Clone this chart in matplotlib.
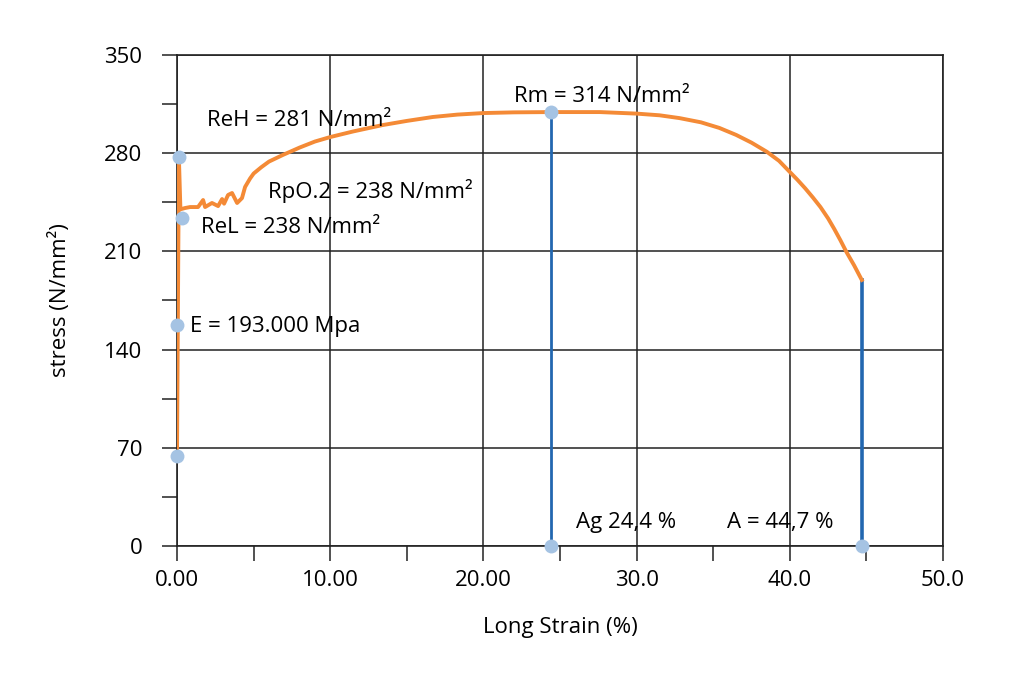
import matplotlib.pyplot as plt
from matplotlib.ticker import MultipleLocator, FixedLocator

plt.rcParams['font.family'] = ['Open Sans', 'DejaVu Sans']

# stress-strain curve
strain = [0.0, 0.12, 0.22, 0.52, 0.85, 1.37, 1.70, 1.83, 2.28, 2.68, 2.94, 3.07,
          3.33, 3.59, 3.92, 4.24, 4.44, 4.77, 5.0, 5.5, 6.0, 6.9, 8.0, 9.0, 10.0,
          11.5, 13.4, 15.0, 16.7, 18.3, 20.0, 22.0, 24.4, 27.6, 30.0, 31.5, 32.8,
          34.2, 35.4, 36.5, 37.5, 38.5, 39.3, 40.0, 40.5, 41.0, 41.5, 42.0, 42.5,
          42.9, 43.3, 43.7, 44.2, 44.7]
stress = [70, 277, 240, 240.9, 241.6, 241.6, 246.6, 241.6, 244.5, 242.3, 247.3, 244.0,
          250.2, 251.6, 244.5, 248.0, 255.9, 262.0, 265.5, 270.0, 274.0, 278.7, 284.0, 288.3, 291.5,
          295.5, 300.0, 303.0, 305.8, 307.5, 308.6, 309.1, 309.3, 309.3, 308.2, 307.0, 305.0,
          302.0, 298.0, 293.0, 287.5, 281.0, 274.5, 266.6, 261.0, 255.0, 248.5, 241.6, 233.5,
          226.0, 218.0, 209.5, 200.0, 189.6]

# key points (markers)
pt_x = [0.0, 0.0, 0.1, 0.3, 24.4, 24.4, 44.7]
pt_y = [64, 157.5, 277, 234, 309.3, 0, 0]

# vertical drop lines: Ag and A
drop_x = [24.4, 44.7]
drop_top = [309.3, 189.6]
drop_w = [2.0, 2.6]

labels = ['ReH = 281 N/mm²', 'RpO.2 = 238 N/mm²', 'ReL = 238 N/mm²',
          'E = 193.000 Mpa', 'Rm = 314 N/mm²', 'Ag 24,4 %', 'A = 44,7 %']
label_x = [1.96, 5.94, 1.57, 0.85, 22.0, 26.05, 35.9]
label_y = [303.6, 252.8, 226.7, 156.8, 320.7, 16.4, 16.4]

xtick_vals = [0, 10, 20, 30, 40, 50]
xtick_txt = ['0.00', '10.00', '20.00', '30.0', '40.0', '50.0']
ytick_vals = [0, 70, 140, 210, 280, 350]

fig = plt.figure(figsize=(10.24, 6.77), dpi=100)
ax = fig.add_axes([0.1729, 0.1935, 0.748, 0.7253])

for x, top, w in zip(drop_x, drop_top, drop_w):
    ax.plot([x, x], [0, top], color='#2267B0', lw=w, zorder=3)
ax.plot(strain, stress, color='#F48A36', lw=2.8, zorder=4, solid_joinstyle='round')
ax.plot(pt_x, pt_y, 'o', color='#A5C3E3', ms=10, mec='none', zorder=5, clip_on=False)

for t, x, y in zip(labels, label_x, label_y):
    ax.text(x, y, t, fontsize=16, va='center', ha='left', zorder=6)

ax.set_xlim(0, 50)
ax.set_ylim(0, 350)
ax.xaxis.set_major_locator(FixedLocator(xtick_vals))
ax.set_xticklabels(xtick_txt)
ax.xaxis.set_minor_locator(MultipleLocator(5))
ax.yaxis.set_major_locator(FixedLocator(ytick_vals))
ax.yaxis.set_minor_locator(MultipleLocator(35))

ax.tick_params(which='both', direction='out', length=11, width=1.1, color='#222222')
ax.tick_params(axis='x', which='major', labelsize=16, pad=6)
ax.tick_params(axis='y', which='major', labelsize=16, pad=14)

ax.grid(True, which='major', color='#222222', lw=1.1)
ax.set_axisbelow(True)
for s in ax.spines.values():
    s.set_color('#222222')
    s.set_linewidth(1.2)

ax.set_xlabel('Long Strain (%)', fontsize=16, labelpad=19)
ax.set_ylabel('stress (N/mm²)', fontsize=16, labelpad=24)

fig.savefig('out.png', dpi=100)
